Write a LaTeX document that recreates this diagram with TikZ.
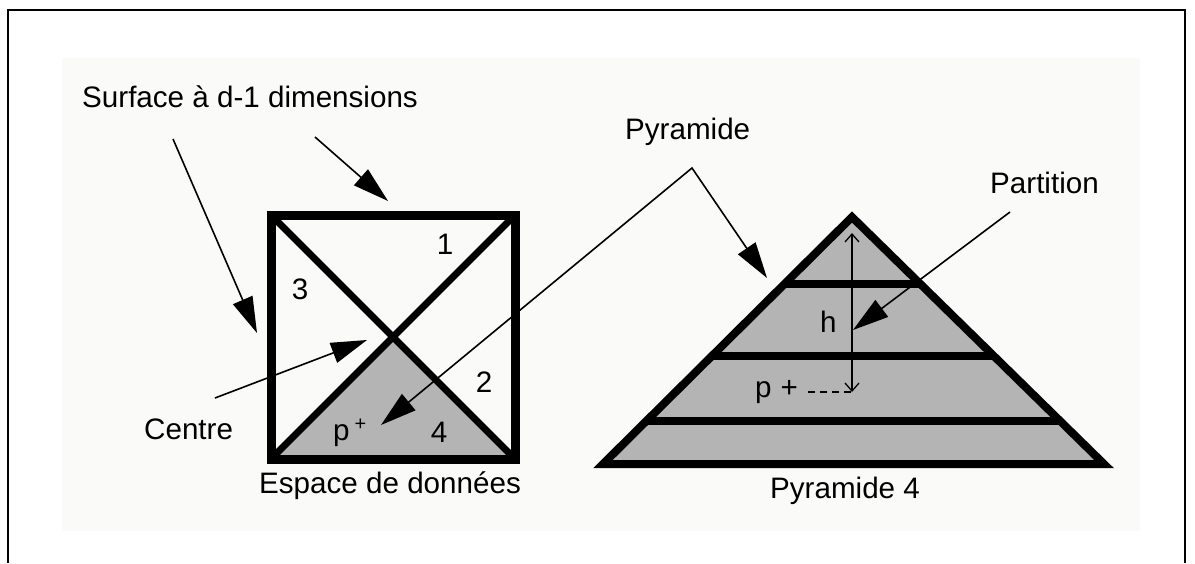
\documentclass[tikz,border=0pt]{standalone}
\usepackage{fontspec}
\setmainfont{Liberation Sans}
\usetikzlibrary{arrows.meta,calc}
\definecolor{fillgray}{RGB}{180,180,180}
\definecolor{bgtint}{RGB}{250,250,248}
\begin{document}
\begin{tikzpicture}[x=1pt,y=-1pt,
  font=\fontsize{29.6}{35}\selectfont,
  lbl/.style={inner sep=0pt, anchor=base west},
  num/.style={inner sep=0pt},
  ptr/.style={line width=1.6pt, -{Triangle[length=36pt,width=21pt]}},
  ptrboth/.style={line width=1.6pt, {Triangle[length=36pt,width=21pt]}-{Triangle[length=36pt,width=21pt]}},
  barline/.style={line width=8pt},
  hdim/.style={line width=1.3pt, {Straight Barb[length=8pt,width=14pt]}-{Straight Barb[length=8pt,width=14pt]}}
]
\useasboundingbox (0,0) rectangle (1195,563);
\fill[bgtint] (62,58) rectangle (1140,531);
\draw[line width=2.5pt] (8,563) -- (8,10) -- (1185,10) -- (1185,563);

% ---- data space square ----
\coordinate (TL) at (271,215);
\coordinate (TR) at (515,215);
\coordinate (BR) at (515,459);
\coordinate (BL) at (271,459);
\coordinate (C) at (393,337);
\fill[fillgray] (BL) -- (C) -- (BR) -- cycle;
\draw[line width=7pt] (TL) -- (BR) (TR) -- (BL);
\draw[line width=9pt, line join=miter] (TL) rectangle (BR);

\node[num] (n1) at (445,244) {1};
\node[num] (n3) at (300,289) {3};
\node[num] (n2) at (484,382) {2};
\node[num] (n4) at (439,432) {4};
\node[lbl] (psq) at (333,440) {p\hspace{5pt}\raisebox{10pt}{\fontsize{20}{20}\selectfont +}};

% ---- pyramid ----
\coordinate (A) at (852,217);
\coordinate (PL) at (603,464);
\coordinate (PR) at (1104,464);
\filldraw[fill=fillgray, line width=8pt, line join=miter, miter limit=10] (A) -- (PL) -- (PR) -- cycle;
\draw[barline] ($(A)!0.2713!(PL)$) -- ($(A)!0.2713!(PR)$);
\draw[barline] ($(A)!0.5628!(PL)$) -- ($(A)!0.5628!(PR)$);
\draw[barline] ($(A)!0.8259!(PL)$) -- ($(A)!0.8259!(PR)$);

\coordinate (htop) at (852,233);
\coordinate (hbot) at (852,392);
\draw[hdim] (htop) -- (hbot);
\node[lbl] (h) at (820,332) {h};
\node[lbl] (ppy) at (755,397) {p\hspace{9pt}+};
\draw[line width=1.3pt, dash pattern=on 7pt off 5pt] ([xshift=10pt]ppy.east |- hbot) -- (hbot);

% ---- labels ----
\node[lbl] (surf) at (82,107) {Surface à d-1 dimensions};
\node[lbl] (centre) at (144,439) {Centre};
\node[lbl] (esp) at (259,493) {Espace de données};
\node[lbl] (pyr) at (625,139) {Pyramide};
\node[lbl] (part) at (990,193) {Partition};
\node[lbl] (pyr4) at (770,498) {Pyramide 4};

% ---- arrows ----
\coordinate (s1a) at (173,139);
\coordinate (s1b) at (257,333);
\coordinate (s2a) at (315,137);
\coordinate (s2b) at (388,201);
\coordinate (ca) at (215,398);
\coordinate (cb) at (367,340);
\coordinate (ptip) at (381,425);
\coordinate (pbend) at (692,168);
\coordinate (pyrtip) at (767,278);
\coordinate (parta) at (1010,212);
\coordinate (partb) at (853,330);

\draw[ptr] (s1a) -- (s1b);
\draw[ptr] (s2a) -- (s2b);
\draw[ptr] (ca) -- (cb);
\draw[ptrboth, line join=miter] (ptip) -- (pbend) -- (pyrtip);
\draw[ptr] (parta) -- (partb);
\end{tikzpicture}
\end{document}
